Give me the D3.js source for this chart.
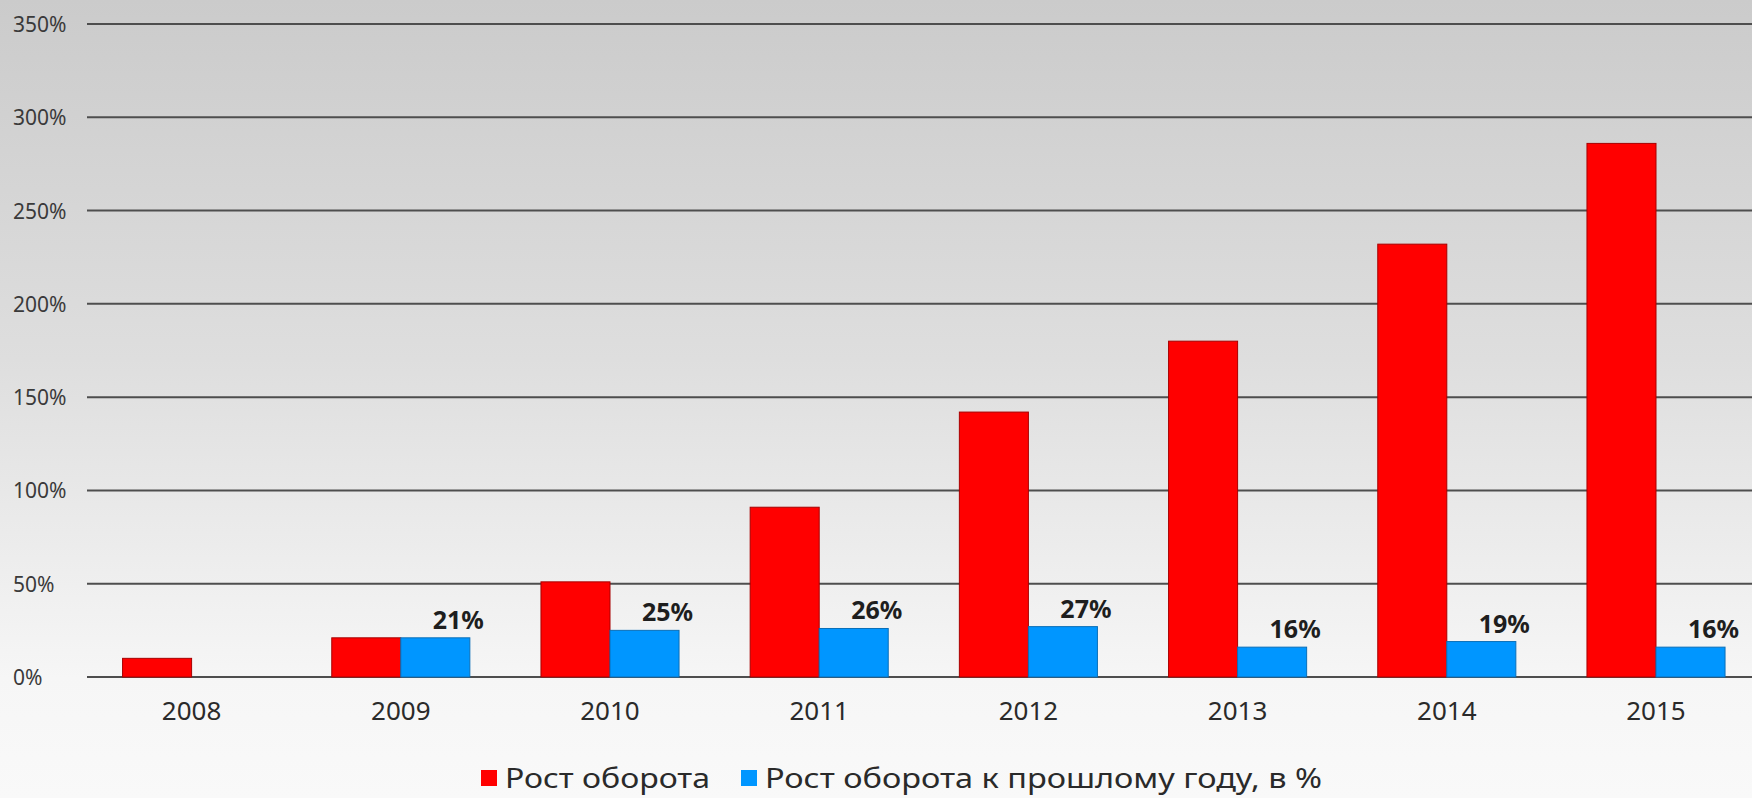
<!DOCTYPE html>
<html lang="ru">
<head>
<meta charset="utf-8">
<title>Рост оборота</title>
<script src="https://cdn.jsdelivr.net/npm/d3@7"></script>
<style>
  html, body { margin: 0; padding: 0; overflow: hidden; }
  body { width: 1752px; height: 798px; }
  text { font-family: "Noto Sans", "Open Sans", sans-serif; }
</style>
</head>
<body>
<script>

// ---- data ----
var years = ["2008", "2009", "2010", "2011", "2012", "2013", "2014", "2015"];
var turnoverGrowth = [10, 21, 51, 91, 142, 180, 232, 286];       // Рост оборота
var yearOverYear = [null, 21, 25, 26, 27, 16, 19, 16];          // Рост оборота к прошлому году
var yTicks = [0, 50, 100, 150, 200, 250, 300, 350];
var seriesNames = ["Рост оборота", "Рост оборота к прошлому году, в %"];
var seriesColors = ["#ff0000", "#0096ff"];

// ---- canvas ----
var w = 1752, h = 798;
var left = 87, step = 209.2;

var svg = d3.select("body").append("svg")
  .attr("width", w)
  .attr("height", h);

var defs = svg.append("defs");
var grad = defs.append("linearGradient")
  .attr("id", "bg")
  .attr("x1", 0).attr("y1", 0).attr("x2", 0).attr("y2", 1);
grad.append("stop").attr("offset", "0%").attr("stop-color", "#cbcbcb");
grad.append("stop").attr("offset", "45%").attr("stop-color", "#dedede");
grad.append("stop").attr("offset", "85%").attr("stop-color", "#f6f6f6");
grad.append("stop").attr("offset", "100%").attr("stop-color", "#f9f9f9");

svg.append("rect")
  .attr("width", w).attr("height", h)
  .attr("fill", "url(#bg)");

// scales
var x = d3.scaleBand()
  .domain(years)
  .range([left, left + step * years.length])
  .paddingInner(0.34)
  .paddingOuter(0.17);

var xs = d3.scaleBand()
  .domain([0, 1])
  .range([0, x.bandwidth()]);

var y = d3.scaleLinear()
  .domain([0, 350])
  .range([677, 24]);

// gridlines
svg.append("g")
  .selectAll("line")
  .data(yTicks)
  .enter()
  .append("line")
  .attr("x1", left)
  .attr("x2", w)
  .attr("y1", function(d) { return y(d); })
  .attr("y2", function(d) { return y(d); })
  .attr("stroke", "#4e4e4e")
  .attr("stroke-width", 2);

// y labels (left aligned)
svg.append("g")
  .selectAll("text")
  .data(yTicks)
  .enter()
  .append("text")
  .attr("x", 13)
  .attr("y", function(d) { return y(d) + 8; })
  .attr("font-size", 21)
  .attr("fill", "#3a3a3a")
  .text(function(d) { return d + "%"; });

// x labels
svg.append("g")
  .selectAll("text")
  .data(years)
  .enter()
  .append("text")
  .attr("x", function(d) { return x(d) + x.bandwidth() / 2; })
  .attr("y", 720)
  .attr("text-anchor", "middle")
  .attr("font-size", 26)
  .attr("fill", "#2a2a2a")
  .text(function(d) { return d; });

// bars
var groups = svg.append("g")
  .selectAll("g")
  .data(years)
  .enter()
  .append("g")
  .attr("transform", function(d) { return "translate(" + x(d) + ",0)"; });

groups.append("rect")
  .attr("x", xs(0))
  .attr("width", xs.bandwidth())
  .attr("y", function(d, i) { return y(turnoverGrowth[i]); })
  .attr("height", function(d, i) { return y(0) - y(turnoverGrowth[i]); })
  .attr("fill", seriesColors[0])
  .attr("stroke", "#a80000")
  .attr("stroke-width", 1);

groups.filter(function(d, i) { return yearOverYear[i] != null; })
  .append("rect")
  .attr("x", xs(1))
  .attr("width", xs.bandwidth())
  .attr("y", function(d) { return y(yearOverYear[years.indexOf(d)]); })
  .attr("height", function(d) { return y(0) - y(yearOverYear[years.indexOf(d)]); })
  .attr("fill", seriesColors[1])
  .attr("stroke", "#0a6fb8")
  .attr("stroke-width", 1);

// data labels for the blue series
groups.filter(function(d, i) { return yearOverYear[i] != null; })
  .append("text")
  .attr("x", xs(1) + xs.bandwidth() / 2 + 23)
  .attr("y", function(d) { return y(yearOverYear[years.indexOf(d)]) - 9; })
  .attr("text-anchor", "middle")
  .attr("font-size", 25)
  .attr("font-weight", "bold")
  .attr("fill", "#1e1e1e")
  .text(function(d) { return yearOverYear[years.indexOf(d)] + "%"; });

// legend
var legend = svg.append("g");
var legendItems = [
  { sx: 481, tx: 505, len: 205 },
  { sx: 741, tx: 765, len: 557 }
];
legendItems.forEach(function(it, i) {
  legend.append("rect")
    .attr("x", it.sx).attr("y", 770)
    .attr("width", 16).attr("height", 16)
    .attr("fill", seriesColors[i]);
  legend.append("text")
    .attr("x", it.tx).attr("y", 788)
    .attr("font-size", 28)
    .attr("fill", "#2a2a2a")
    .attr("textLength", it.len)
    .attr("lengthAdjust", "spacingAndGlyphs")
    .text(seriesNames[i]);
});

</script>
</body>
</html>
